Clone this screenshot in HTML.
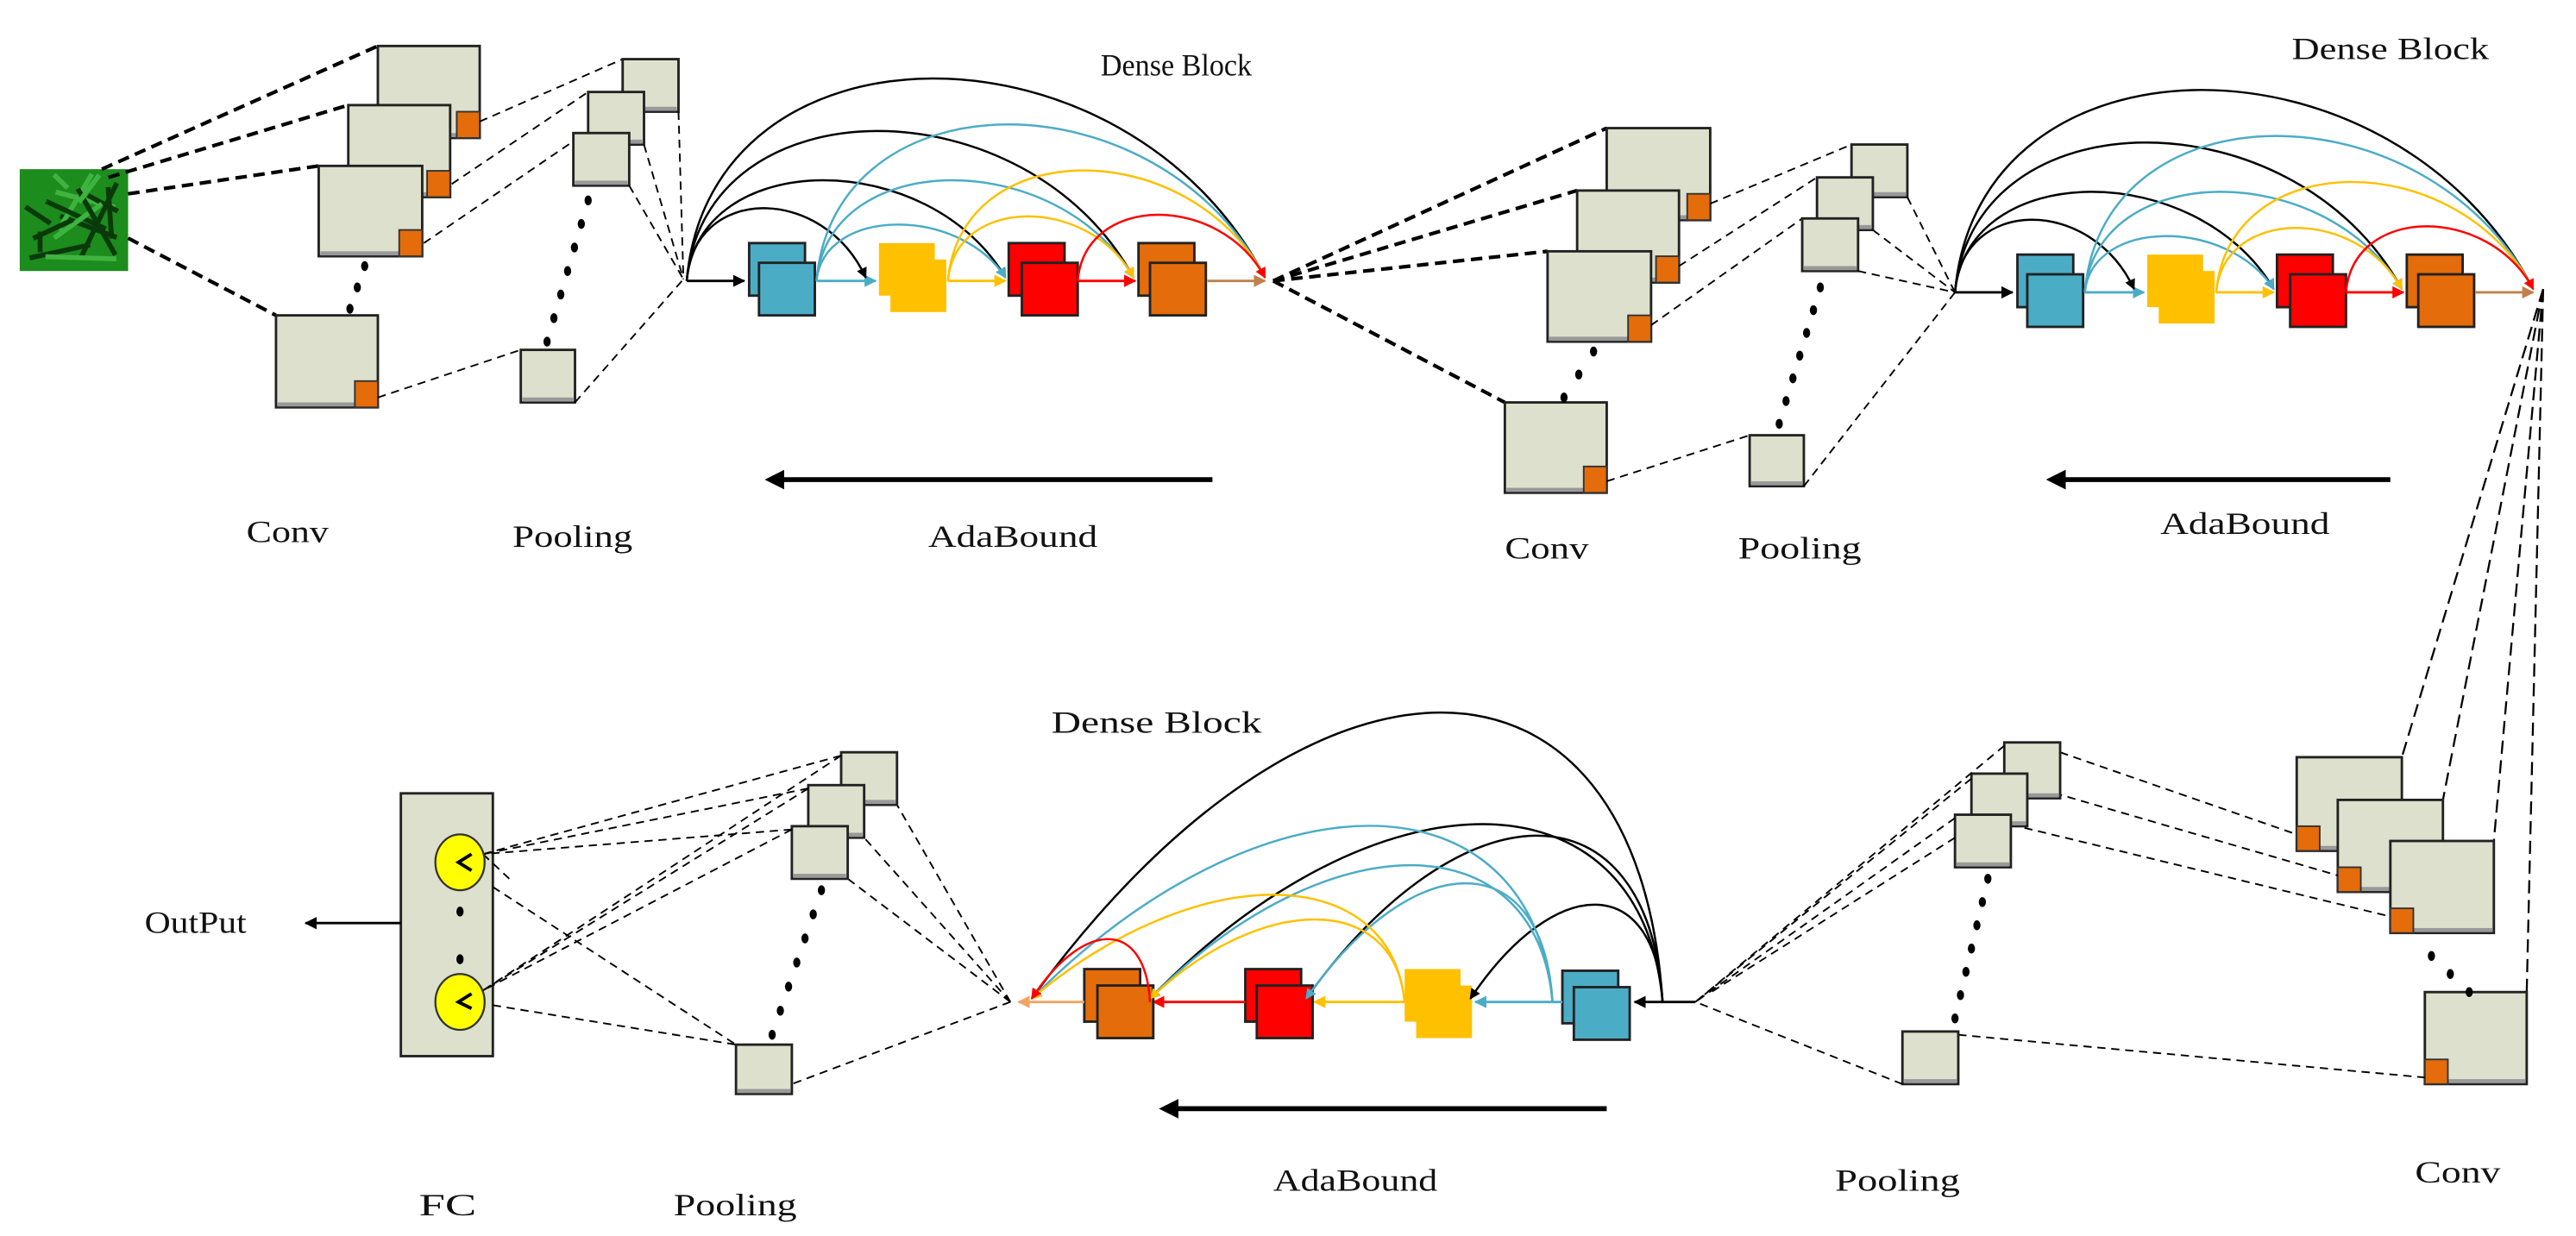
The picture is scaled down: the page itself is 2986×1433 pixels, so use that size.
<!DOCTYPE html>
<html><head><meta charset="utf-8"><style>
html,body{margin:0;padding:0;background:#fff;width:2986px;height:1433px;overflow:hidden;position:relative;}
svg{display:block;position:absolute;left:0;top:0;}
text{font-family:"Liberation Serif",serif;font-size:19px;fill:#111;}
</style></head><body>
<svg id="s" xmlns="http://www.w3.org/2000/svg" width="2986" height="1433" viewBox="0 0 1568 752.5" preserveAspectRatio="none" overflow="hidden">
<defs>
<marker id="m000" viewBox="0 0 10 10" refX="9" refY="5" markerWidth="5" markerHeight="5" orient="auto"><path d="M0,0L10,5L0,10z" fill="#000"/></marker>
<marker id="mblue" viewBox="0 0 10 10" refX="9" refY="5" markerWidth="5" markerHeight="5" orient="auto"><path d="M0,0L10,5L0,10z" fill="#4bacc6"/></marker>
<marker id="myel" viewBox="0 0 10 10" refX="9" refY="5" markerWidth="5" markerHeight="5" orient="auto"><path d="M0,0L10,5L0,10z" fill="#ffc000"/></marker>
<marker id="mred" viewBox="0 0 10 10" refX="9" refY="5" markerWidth="5" markerHeight="5" orient="auto"><path d="M0,0L10,5L0,10z" fill="#ff0000"/></marker>
<marker id="mor" viewBox="0 0 10 10" refX="9" refY="5" markerWidth="5" markerHeight="5" orient="auto"><path d="M0,0L10,5L0,10z" fill="#f4a460"/></marker>
<marker id="mbr" viewBox="0 0 10 10" refX="9" refY="5" markerWidth="5" markerHeight="5" orient="auto"><path d="M0,0L10,5L0,10z" fill="#c0804a"/></marker>
<marker id="mbig" viewBox="0 0 10 10" refX="2" refY="5" markerWidth="4" markerHeight="4" orient="auto"><path d="M0,0L10,5L0,10z" fill="#000"/></marker>
</defs>
<g id="g"></g>
<text x="670" y="46" textLength="92" lengthAdjust="spacingAndGlyphs">Dense Block</text>
<text x="1395" y="36" textLength="120" lengthAdjust="spacingAndGlyphs">Dense Block</text>
<text x="640" y="446" textLength="128" lengthAdjust="spacingAndGlyphs">Dense Block</text>
<text x="150" y="330" textLength="50" lengthAdjust="spacingAndGlyphs">Conv</text>
<text x="312" y="333" textLength="73" lengthAdjust="spacingAndGlyphs">Pooling</text>
<text x="565" y="333" textLength="103" lengthAdjust="spacingAndGlyphs">AdaBound</text>
<text x="916" y="340" textLength="51" lengthAdjust="spacingAndGlyphs">Conv</text>
<text x="1058" y="340" textLength="75" lengthAdjust="spacingAndGlyphs">Pooling</text>
<text x="1315" y="325" textLength="103" lengthAdjust="spacingAndGlyphs">AdaBound</text>
<text x="88" y="568" textLength="62" lengthAdjust="spacingAndGlyphs">OutPut</text>
<text x="255" y="740" textLength="35" lengthAdjust="spacingAndGlyphs">FC</text>
<text x="410" y="740" textLength="75" lengthAdjust="spacingAndGlyphs">Pooling</text>
<text x="775" y="725" textLength="100" lengthAdjust="spacingAndGlyphs">AdaBound</text>
<text x="1117" y="725" textLength="76" lengthAdjust="spacingAndGlyphs">Pooling</text>
<text x="1470" y="720" textLength="52" lengthAdjust="spacingAndGlyphs">Conv</text>
</svg>
<script>
var G=document.getElementById('g'),NS='http://www.w3.org/2000/svg';
function el(t,a){var e=document.createElementNS(NS,t);for(var k in a)e.setAttribute(k,a[k]);G.appendChild(e);return e;}
function ln(x1,y1,x2,y2,w,dash,col,mk){var a={x1:x1,y1:y1,x2:x2,y2:y2,stroke:col||'#000','stroke-width':w||1};if(dash)a['stroke-dasharray']=dash;if(mk)a['marker-end']='url(#'+mk+')';el('line',a);}
function dsh(x1,y1,x2,y2){ln(x1,y1,x2,y2,1,'5 3.5');}
function thk(x1,y1,x2,y2){ln(x1,y1,x2,y2,2.2,'7 4');}
function box(x,y,w,h,c){el('rect',{x:x,y:y,width:w,height:h,fill:'#dde0cc',stroke:'#222','stroke-width':1.5});
 el('rect',{x:x+1,y:y+h-3,width:w-2,height:2.5,fill:'#999'});
 if(c=='br')el('rect',{x:x+w-14,y:y+h-16,width:14,height:16,fill:'#e46c0a',stroke:'#333','stroke-width':1});
 if(c=='bl')el('rect',{x:x,y:y+h-15,width:14,height:15,fill:'#e46c0a',stroke:'#333','stroke-width':1});}
function dots(x1,y1,x2,y2,n){for(var i=0;i<n;i++){var t=i/(n-1);el('ellipse',{cx:x1+(x2-x1)*t,cy:y1+(y2-y1)*t,rx:2.2,ry:3,fill:'#000'});}}
function arc(x1,x2,y,yt,col,mk,f){var w=x2-x1,h=y-yt,yc=y-1.333*h;
 var d='M'+x1+','+y+' C'+(x1+0.04*w)+','+yc+' '+(x1+(2*f-0.04)*w)+','+yc+' '+x2+','+(y-2);
 el('path',{d:d,fill:'none',stroke:col,'stroke-width':1.3,'marker-end':'url(#'+mk+')'});}
function pair(x,y,col,dx,dy,border){var s=border?'#222':'none';
 el('rect',{x:x,y:y,width:34,height:32,fill:col,stroke:s,'stroke-width':1.5});
 el('rect',{x:x+dx,y:y+dy,width:34,height:32,fill:col,stroke:s,'stroke-width':1.5});}
var B='#4bacc6',Y='#ffc000',R='#ff0000',O='#e46c0a';
el('rect',{x:12,y:103,width:66,height:62,fill:'#1c8c1c'});
var seed=3;function rnd(){seed=(seed*9301+49297)%233280;return seed/233280;}
for(var i=0;i<16;i++){el('line',{x1:14+rnd()*60,y1:105+rnd()*55,x2:14+rnd()*60,y2:105+rnd()*55,stroke:i%3?'#0a3a0a':'#3fb33f','stroke-width':3});}
thk(62,103,230,28);thk(66,108,212,64);thk(78,118,194,101);thk(78,145,168,192);
box(230,28,62,56,'br');box(212,64,62,56,'br');box(194,101,63,55,'br');box(168,192,62,56,'br');
dots(222,162,213,188,3);
dsh(292,74,379,36);dsh(275,112,358,56);dsh(258,148,349,86);dsh(230,242,317,213);
box(379,36,34,32);box(358,56,34,32);box(349,81,34,32);box(317,213,33,32);
dots(358,122,333,208,7);
dsh(413,68,416,170);dsh(392,88,416,170);dsh(383,113,416,170);dsh(350,245,416,170);
function dense(ox,oy){
 function X(x){return x+ox;}function Yy(y){return y+oy;}
 ln(X(418),Yy(171),X(453),Yy(171),1.5,null,'#000','m000');
 pair(X(456),Yy(148),B,6,12,true);
 ln(X(497),Yy(171),X(533),Yy(171),1.5,null,B,'mblue');
 pair(X(535),Yy(148),Y,7,10,false);
 ln(X(577),Yy(171),X(612),Yy(171),1.5,null,Y,'myel');
 pair(X(614),Yy(148),R,8,12,true);
 ln(X(656),Yy(171),X(691),Yy(171),1.5,null,R,'mred');
 pair(X(693),Yy(148),O,7,12,true);
 ln(X(735),Yy(171),X(770),Yy(171),1.5,null,'#c0804a','mbr');
 var A=[[418,770,48,'#000','m000'],[418,690,80,'#000','m000'],[418,612,110,'#000','m000'],[418,527,127,'#000','m000'],
 [497,770,76,B,'mblue'],[497,690,110,B,'mblue'],[497,612,137,B,'mblue'],[577,770,104,Y,'myel'],[577,690,132,Y,'myel'],[656,770,131,R,'mred']];
 A.forEach(function(a){arc(X(a[0]),X(a[1]),Yy(171),Yy(a[2]),a[3],a[4],0.4);});}
dense(0,0);
ln(738,292,475,292,3,null,'#000','mbig');
ln(1455,292,1255,292,3,null,'#000','mbig');
ln(978,675,715,675,3,null,'#000','mbig');
thk(775,171,978,78);thk(775,171,960,116);thk(775,171,942,153);thk(775,171,916,245);
box(978,78,63,56,'br');box(960,116,62,56,'br');box(942,153,63,55,'br');box(916,245,62,55,'br');
dots(970,214,952,242,3);
dsh(1041,124,1127,88);dsh(1022,162,1106,108);dsh(1005,198,1097,133);dsh(978,293,1065,265);
box(1127,88,34,32);box(1106,108,34,32);box(1097,133,34,32);box(1065,265,33,31);
dots(1108,175,1083,258,7);
dsh(1161,120,1190,178);dsh(1140,140,1190,178);dsh(1131,165,1190,178);dsh(1098,296,1190,178);
dense(772,7);
ln(1548,176,1462,461,1.2,'8 4');ln(1548,176,1487,487,1.2,'8 4');ln(1548,176,1518,512,1.2,'8 4');ln(1548,176,1538,604,1.2,'8 4');
box(1398,461,64,57,'bl');box(1423,487,64,56,'bl');box(1455,512,63,56,'bl');box(1476,604,62,56,'bl');
dots(1480,582,1503,604,3);
dsh(1254,458,1398,508);dsh(1234,478,1423,533);dsh(1224,502,1455,558);dsh(1192,630,1476,656);
box(1220,452,34,34);box(1200,471,34,32);box(1190,496,34,32);box(1158,628,34,32);
dots(1210,535,1190,620,7);
dsh(1220,454,1032,610);dsh(1200,474,1032,610);dsh(1190,498,1032,610);dsh(1190,510,1040,605);dsh(1158,660,1032,610);
ln(1032,610,995,610,1.5,null,'#000','m000');
pair(951,591,B,7,10,true);
ln(951,610,898,610,1.5,null,B,'mblue');
pair(855,590,Y,7,10,false);
ln(855,610,800,610,1.5,null,Y,'myel');
pair(758,590,R,7,10,true);
ln(758,610,702,610,1.5,null,R,'mred');
pair(660,590,O,8,10,true);
ln(660,610,620,610,1.5,null,'#f4a460','mor');
[[1012,628,434,'#000','m000'],[1012,700,502,'#000','m000'],[1012,795,509,'#000','m000'],[1012,895,551,'#000','m000'],
 [945,628,503,B,'mblue'],[945,700,527,B,'mblue'],[945,795,538,B,'mblue'],[855,628,545,Y,'myel'],[855,700,560,Y,'myel'],[700,628,572,R,'mred']]
 .forEach(function(a){arc(a[0],a[1],610,a[2],a[3],a[4],0.3);});
dsh(615,610,546,490);dsh(615,610,526,510);dsh(615,610,516,535);dsh(615,610,482,660);
box(512,458,34,32);box(492,478,34,32);box(482,503,34,32);box(448,636,34,30);
dots(500,542,470,630,7);
el('rect',{x:244,y:483,width:56,height:160,fill:'#dde0cc',stroke:'#222','stroke-width':1.5});
[[512,460],[492,480],[482,505]].forEach(function(p){dsh(p[0],p[1],294,520);dsh(p[0],p[1],294,603);});
dsh(300,540,448,636);dsh(294,520,310,535);dsh(300,612,448,636);
el('ellipse',{cx:280,cy:525,rx:15,ry:17,fill:'#ffff00',stroke:'#333','stroke-width':1.2});
el('ellipse',{cx:280,cy:610,rx:15,ry:17,fill:'#ffff00',stroke:'#333','stroke-width':1.2});
el('path',{d:'M287,520 L279,525 L287,530',fill:'none',stroke:'#000','stroke-width':2});
el('path',{d:'M287,605 L279,610 L287,614',fill:'none',stroke:'#000','stroke-width':2});
dots(280,555,280,584,2);
ln(244,562,186,562,1.5,null,'#000','m000');
</script>
</body></html>
